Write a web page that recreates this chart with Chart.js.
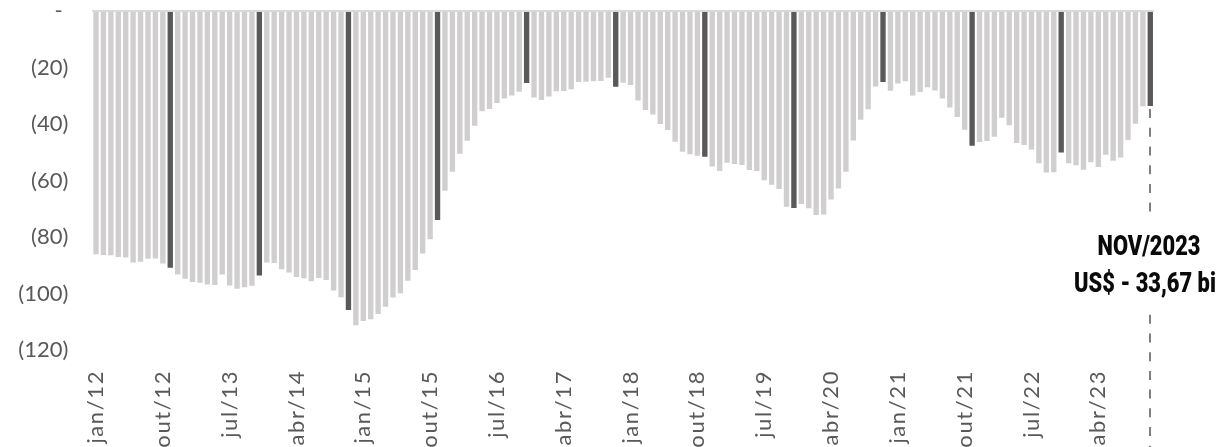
<!DOCTYPE html>
<html>
<head>
<meta charset="utf-8">
<script src="https://cdn.jsdelivr.net/npm/chart.js@4.4.0/dist/chart.umd.min.js"></script>
<style>
  html, body { margin: 0; padding: 0; background: #ffffff; }
  #wrap { width: 1228px; height: 447px; position: relative; overflow: hidden; }
</style>
</head>
<body>
<div id="wrap"><canvas id="chart" width="1228" height="447"></canvas></div>
<script>
// Monthly balance, US$ billions (negative values)
const monthNames = ['jan', 'fev', 'mar', 'abr', 'mai', 'jun', 'jul', 'ago', 'set', 'out', 'nov', 'dez'];
const years = ['12', '13', '14', '15', '16', '17', '18', '19', '20', '21', '22', '23'];

const saldo2012 = [-86.1, -86.4, -86.5, -87.1, -87.3, -89.0, -88.8, -87.7, -87.6, -89.4, -90.9, -93.3];
const saldo2013 = [-94.8, -95.9, -96.2, -96.8, -97.0, -93.3, -97.2, -98.3, -97.8, -97.3, -93.6, -89.0];
const saldo2014 = [-89.2, -91.4, -92.6, -94.2, -94.6, -95.7, -94.5, -95.2, -98.9, -101.3, -105.8, -111.2];
const saldo2015 = [-109.7, -109.1, -107.3, -104.7, -101.4, -99.9, -95.5, -91.7, -85.8, -80.8, -74.0, -63.6];
const saldo2016 = [-56.9, -50.5, -45.9, -40.6, -35.5, -34.7, -32.6, -31.0, -29.9, -28.6, -25.5, -30.6];
const saldo2017 = [-31.5, -30.3, -28.4, -28.3, -27.7, -25.1, -25.0, -24.9, -24.8, -23.6, -26.8, -25.4];
const saldo2018 = [-26.2, -31.7, -35.0, -36.6, -40.0, -42.1, -46.3, -49.8, -50.7, -51.2, -51.6, -55.0];
const saldo2019 = [-56.6, -53.7, -54.2, -54.5, -56.3, -56.6, -59.9, -61.5, -63.0, -69.3, -69.7, -68.3];
const saldo2020 = [-69.8, -72.2, -72.0, -66.7, -62.8, -56.9, -45.8, -38.5, -34.8, -26.7, -25.1, -28.2];
const saldo2021 = [-25.7, -24.9, -29.9, -28.7, -27.0, -28.1, -31.0, -34.2, -37.5, -42.0, -47.7, -46.4];
const saldo2022 = [-46.0, -44.5, -37.8, -40.4, -46.7, -47.4, -49.0, -53.9, -57.2, -57.1, -50.1, -53.9];
const saldo2023 = [-54.6, -56.2, -53.5, -55.2, -50.9, -53.0, -51.9, -45.7, -39.9, -33.7, -33.67];

const xTickLabels = ['jan/12', 'out/12', 'jul/13', 'abr/14', 'jan/15', 'out/15', 'jul/16', 'abr/17',
                     'jan/18', 'out/18', 'jul/19', 'abr/20', 'jan/21', 'out/21', 'jul/22', 'abr/23'];
const yTickValues = [0, -20, -40, -60, -80, -100, -120];

const highlightTitle = 'NOV/2023';

const values = [].concat(saldo2012, saldo2013, saldo2014, saldo2015, saldo2016, saldo2017,
                         saldo2018, saldo2019, saldo2020, saldo2021, saldo2022, saldo2023);
const categories = [];
years.forEach(y => monthNames.forEach(m => categories.push(m + '/' + y)));
categories.length = values.length;

const LIGHT = '#d0cece';
const DARK = '#595959';
const barColors = categories.map(c => c.startsWith('nov/') ? DARK : LIGHT);

const axisFont = { family: 'Lato, "Open Sans", sans-serif', size: 22, weight: 400 };

// Dashed marker and caption for the latest month
const latestMarker = {
  id: 'latestMarker',
  afterDraw(chart) {
    const ctx = chart.ctx;
    const meta = chart.getDatasetMeta(0);
    const bar = meta.data[meta.data.length - 1];
    const v = values[values.length - 1];
    const x = Math.round(bar.x);
    ctx.save();
    ctx.strokeStyle = '#7f7f7f';
    ctx.lineWidth = 2;
    ctx.setLineDash([9, 9.7]);
    ctx.beginPath();
    ctx.moveTo(x, bar.y + 3);
    ctx.lineTo(x, chart.height);
    ctx.stroke();
    ctx.setLineDash([]);
    ctx.fillStyle = '#ffffff';
    ctx.fillRect(x - 8, 212, 16, 102);
    ctx.fillStyle = '#0a0a0a';
    ctx.textAlign = 'center';
    ctx.textBaseline = 'alphabetic';
    ctx.font = '900 28px Roboto, "DejaVu Sans", sans-serif';
    const squeeze = 0.78;
    const lines = [
      { text: highlightTitle, cx: x - 1, y: 255 },
      { text: 'US$ - ' + Math.abs(v).toFixed(2).replace('.', ',') + ' bi', cx: x - 5, y: 292 }
    ];
    lines.forEach(l => {
      ctx.save();
      ctx.translate(l.cx, l.y);
      ctx.scale(squeeze, 1);
      ctx.fillText(l.text, 0, 0);
      ctx.restore();
    });
    ctx.restore();
  }
};

new Chart(document.getElementById('chart'), {
  type: 'bar',
  data: {
    labels: categories,
    datasets: [{
      data: values,
      backgroundColor: barColors,
      borderWidth: 0,
      categoryPercentage: 1,
      barPercentage: 0.72
    }]
  },
  options: {
    responsive: false,
    animation: false,
    layout: { padding: { top: 11, right: 74, left: 0, bottom: 0 } },
    plugins: { legend: { display: false }, tooltip: { enabled: false } },
    scales: {
      x: {
        grid: { display: false, drawTicks: false },
        border: { display: false },
        ticks: {
          autoSkip: false,
          minRotation: 90,
          maxRotation: 90,
          padding: 20,
          color: '#595959',
          font: axisFont,
          callback(value, index) {
            const lab = categories[index];
            return xTickLabels.includes(lab) ? lab : '';
          }
        },
        afterFit(scale) {
          scale.height = 97;
          // wider letter spacing for the month labels
          if (!scale._spacedLabels) {
            const drawLabels = scale.drawLabels;
            scale.drawLabels = function (area) {
              this.ctx.save();
              this.ctx.letterSpacing = '1.6px';
              drawLabels.call(this, area);
              this.ctx.restore();
            };
            scale._spacedLabels = true;
          }
        }
      },
      y: {
        min: -120,
        max: 0,
        afterBuildTicks(scale) { scale.ticks = yTickValues.map(v => ({ value: v })); },
        grid: {
          drawTicks: false,
          lineWidth: 2,
          color: ctx => (ctx.tick && ctx.tick.value === 0) ? '#d9d9d9' : 'rgba(0,0,0,0)'
        },
        border: { display: false },
        ticks: {
          padding: 24,
          color: '#595959',
          font: axisFont,
          callback: v => v === 0 ? '- ' : '(' + Math.abs(v) + ')'
        },
        afterFit(scale) {
          scale.width = 92.3;
          scale.paddingTop = 0;
          scale.paddingBottom = 0;
        }
      }
    }
  },
  plugins: [latestMarker]
});
</script>
</body>
</html>
